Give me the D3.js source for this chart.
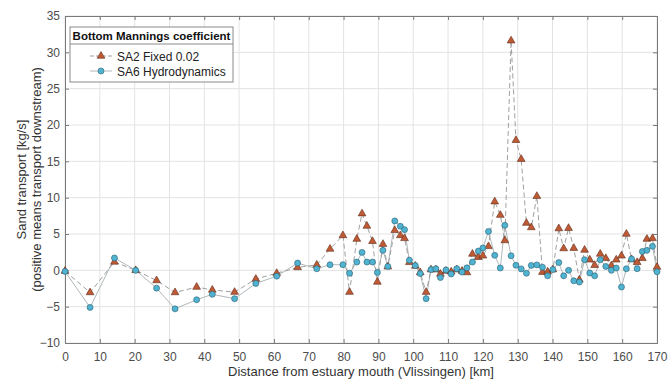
<!DOCTYPE html>
<html>
<head>
<meta charset="utf-8">
<script src="https://cdn.jsdelivr.net/npm/d3@7"></script>
<style>
  body { margin: 0; background: #fff; }
  svg { font-family: "Liberation Sans", Arial, sans-serif; }
</style>
</head>
<body>
<svg id="chart" width="668" height="381"></svg>
<script>
// distance from mouth [km]
const distance = [0, 7.2, 14.2, 20.3, 26.3, 31.6, 37.8, 42.3, 48.7, 54.8, 60.8, 66.8, 72.3, 76.1, 79.8, 81.7,
  83.8, 85.3, 86.7, 88.3, 89.7, 91.3, 92.7, 94.7, 96.3, 97.5, 98.9, 100.6, 102, 103.7, 105.1, 106.5,
  107.8, 109.4, 110.9, 112.5, 114, 115.4, 117, 118.7, 120, 121.6, 123.4, 125, 126.3, 128.1, 129.5, 131,
  132.5, 133.9, 135.5, 137.1, 138.6, 140.1, 141.8, 143.2, 144.6, 146.1, 147.7, 149.2, 150.7, 152.1,
  153.7, 155.3, 156.9, 158.3, 159.8, 161.2, 162.7, 164.3, 165.8, 167.1, 168.7, 170];

const sa2Fixed = [-0.1, -3.05, 1.15, 0, -1.4, -3.05, -2.3, -2.7, -3.0, -1.2, -0.4, 0.4, 0.75, 2.94, 4.8, -3.0,
  4.3, 7.8, 6.1, 4.0, -1.6, 3.6, 0.5, 5.5, 4.8, 4.4, 1.1, 0.6, -0.3, -3.0, 0.1, 0.1,
  -0.5, -0.1, -0.2, 0.1, -0.1, -0.3, 2.25, 1.8, 2.0, 3.3, 9.45, 7.6, 4.1, 31.6, 17.9, 15.3,
  6.5, 5.9, 10.2, -0.25, -0.2, 0.1, 5.75, 3.0, 5.8, 3.05, -1.3, 2.8, 1.45, 0.7,
  2.25, 1.65, 0.65, 1.45, 2.0, 5.0, 1.5, 1.1, 1.65, 4.3, 4.4, 0.45];

const sa6Hydro = [-0.15, -5.1, 1.7, 0, -2.45, -5.3, -4.05, -3.3, -3.9, -1.8, -0.8, 1.0, 0.22, 0.77, 0.77, -0.4,
  1.14, 2.47, 1.14, 1.14, -0.3, 2.75, 0.54, 6.8, 6.07, 5.6, 1.4, 0.66, -0.45, -3.9, 0.1, 0.22,
  -1.0, 0.05, -0.5, 0.22, -0.24, 0.34, 1.14, 2.65, 3.08, 5.35, 2.06, 0.32, 6.2, 2.0, 0.7, 0.2,
  -0.4, 0.68, 0.75, 0.43, -0.75, 0.1, 1.07, -0.75, 0, -1.44, -1.62, 1.46, -0.37, -0.75,
  1.46, 0.54, 0, 0.32, -2.3, 0.22, 1.56, 0.22, 2.6, 2.75, 3.3, -0.2];

const xTicks = d3.range(0, 171, 10);
const yTicks = d3.range(-10, 36, 5);

const svg = d3.select("#chart");
const mLeft = 65, mRight = 657, mTop = 16, mBottom = 343;

const x = d3.scaleLinear().domain([0, 170]).range([mLeft, mRight]);
const y = d3.scaleLinear().domain([-10, 35]).range([mBottom, mTop]);

// grid
svg.append("g").selectAll("line").data(xTicks).join("line")
  .attr("x1", d => x(d)).attr("x2", d => x(d)).attr("y1", mTop).attr("y2", mBottom)
  .attr("stroke", "#e3e3e3").attr("stroke-width", 1);
svg.append("g").selectAll("line").data(yTicks).join("line")
  .attr("x1", mLeft).attr("x2", mRight).attr("y1", d => y(d)).attr("y2", d => y(d))
  .attr("stroke", "#e3e3e3").attr("stroke-width", 1);

// axes
const axisColor = "#7a7a7a";
const gx = svg.append("g").attr("transform", "translate(0," + mBottom + ")")
  .call(d3.axisBottom(x).tickValues(xTicks).tickSize(-4).tickPadding(9));
const gy = svg.append("g").attr("transform", "translate(" + mLeft + ",0)")
  .call(d3.axisLeft(y).tickValues(yTicks).tickSize(-4).tickPadding(5));
const gx2 = svg.append("g").attr("transform", "translate(0," + mTop + ")")
  .call(d3.axisTop(x).tickValues(xTicks).tickSize(-4).tickFormat(""));
const gy2 = svg.append("g").attr("transform", "translate(" + mRight + ",0)")
  .call(d3.axisRight(y).tickValues(yTicks).tickSize(-4).tickFormat(""));
[gx, gy, gx2, gy2].forEach(g => {
  g.selectAll("path, line").attr("stroke", axisColor);
  g.selectAll("text").attr("fill", "#4d4d4d").style("font-size", "12px");
});

// lines
const lineGen = vals => d3.line().x((d, i) => x(distance[i])).y(d => y(d))(vals);
svg.append("path").attr("d", lineGen(sa6Hydro))
  .attr("fill", "none").attr("stroke", "#b0b8bc").attr("stroke-width", 1);
svg.append("path").attr("d", lineGen(sa2Fixed))
  .attr("fill", "none").attr("stroke", "#a0a0a0").attr("stroke-width", 1)
  .attr("stroke-dasharray", "5,3");

const tri = d3.symbol().type(d3.symbolTriangle).size(26);
const triFill = "#c05a35", triEdge = "#5e2b1a";
const cirFill = "#4fb3d1", cirEdge = "#2b5f70";

svg.append("g").selectAll("path").data(sa2Fixed).join("path")
  .attr("d", tri)
  .attr("transform", (d, i) => "translate(" + x(distance[i]) + "," + y(d) + ")")
  .attr("fill", triFill).attr("stroke", triEdge).attr("stroke-width", 0.6);

svg.append("g").selectAll("circle").data(sa6Hydro).join("circle")
  .attr("cx", (d, i) => x(distance[i])).attr("cy", d => y(d)).attr("r", 3)
  .attr("fill", cirFill).attr("stroke", cirEdge).attr("stroke-width", 0.6);

// axis labels
svg.append("text").attr("x", (mLeft + mRight) / 2).attr("y", 376)
  .attr("text-anchor", "middle").attr("fill", "#333").style("font-size", "13px")
  .text("Distance from estuary mouth (Vlissingen) [km]");
const ylab = svg.append("text").attr("transform", "translate(26," + ((mTop + mBottom) / 2) + ") rotate(-90)")
  .attr("text-anchor", "middle").attr("fill", "#333").style("font-size", "13px");
ylab.append("tspan").attr("x", 0).attr("dy", 0).text("Sand transport [kg/s]");
ylab.append("tspan").attr("x", 0).attr("dy", 15).text("(positive means transport downstream)");

// legend
const lg = svg.append("g").attr("transform", "translate(70,27)");
lg.append("rect").attr("width", 163).attr("height", 55)
  .attr("fill", "#fff").attr("stroke", "#8a8a8a").attr("stroke-width", 1);
lg.append("line").attr("x1", 0).attr("x2", 163).attr("y1", 17).attr("y2", 17)
  .attr("stroke", "#8a8a8a");
lg.append("text").attr("x", 81.5).attr("y", 13).attr("text-anchor", "middle")
  .attr("fill", "#111").style("font-size", "11.5px").style("font-weight", "bold")
  .text("Bottom Mannings coefficient");
const entries = [
  { name: "SA2 Fixed 0.02", dash: "4,2", stroke: "#a0a0a0" },
  { name: "SA6 Hydrodynamics", dash: null, stroke: "#b0b8bc" }
];
entries.forEach((e, i) => {
  const yy = 29 + i * 15;
  lg.append("line").attr("x1", 20).attr("x2", 42).attr("y1", yy).attr("y2", yy)
    .attr("stroke", e.stroke).attr("stroke-dasharray", e.dash);
  if (i === 0) {
    lg.append("path").attr("d", tri).attr("transform", "translate(31," + yy + ")")
      .attr("fill", triFill).attr("stroke", triEdge).attr("stroke-width", 0.6);
  } else {
    lg.append("circle").attr("cx", 31).attr("cy", yy).attr("r", 3)
      .attr("fill", cirFill).attr("stroke", cirEdge).attr("stroke-width", 0.6);
  }
  lg.append("text").attr("x", 47).attr("y", yy + 4.5).attr("fill", "#222")
    .style("font-size", "12px").text(e.name);
});
</script>
</body>
</html>
